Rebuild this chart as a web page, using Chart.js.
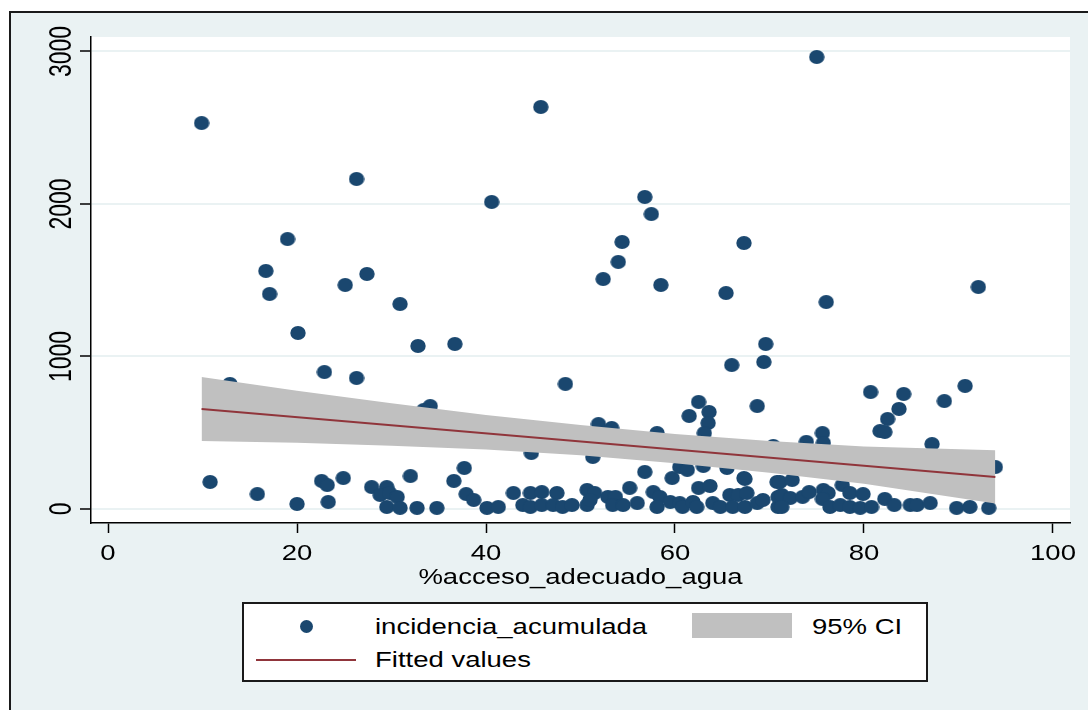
<!DOCTYPE html>
<html>
<head>
<meta charset="utf-8">
<script src="https://cdn.jsdelivr.net/npm/chart.js@4.4.1/dist/chart.umd.min.js"></script>
<style>
html,body{margin:0;padding:0;background:#fff;width:1088px;height:710px;overflow:hidden;}
#frame{position:absolute;left:9px;top:11px;width:1100px;height:720px;background:#EAF2F3;border-left:2px solid #1a1a1a;border-top:2px solid #1a1a1a;box-sizing:border-box;}
#chart{position:absolute;left:0;top:0;}
#legend{position:absolute;left:242px;top:602px;width:686px;height:80px;background:#fff;border:2px solid #1a1a1a;box-sizing:border-box;}
.lt{position:absolute;font-family:"Liberation Sans",Arial,sans-serif;font-size:22px;line-height:22px;white-space:nowrap;color:#000;transform:scaleX(1.25);transform-origin:0 0;}
.dot{position:absolute;left:56px;top:16px;width:13px;height:13px;border-radius:50%;background:#1A476F;}
.ci{position:absolute;left:448px;top:9px;width:100px;height:25px;background:#C0C0C0;}
.fl{position:absolute;left:12px;top:55px;width:100px;height:2px;background:#90353B;}
</style>
</head>
<body>
<div id="frame"></div>
<canvas id="chart" width="1088" height="710"></canvas>
<div id="legend">
  <div class="dot"></div>
  <div class="lt" style="left:131px;top:12px;">incidencia_acumulada</div>
  <div class="ci"></div>
  <div class="lt" style="left:568px;top:12px;">95% CI</div>
  <div class="fl"></div>
  <div class="lt" style="left:131px;top:45px;">Fitted values</div>
</div>
<script>
// ---- data ----
const accesoAgua = [
  9.9,45.8,75.0,26.3,40.6,56.8,57.5,19.0,16.7,17.1,25.1,27.4,54.4,54.0,52.4,58.5,67.3,65.4,76.0,92.1,
  20.1,30.9,32.8,36.7,69.6,69.4,66.0,22.9,26.3,12.9,48.4,80.7,68.7,62.5,84.2,88.5,90.7,34.1,33.4,63.6,
  63.5,63.1,61.5,83.7,82.5,81.7,82.2,87.2,93.9,75.6,73.9,75.7,58.1,51.9,53.3,44.8,51.3,56.8,59.7,60.5,
  61.3,63.0,65.5,67.3,70.8,70.4,
  10.8,15.8,20.0,22.6,23.2,24.9,23.3,27.9,29.5,28.8,29.8,30.6,29.5,30.9,32.0,32.7,34.8,36.6,37.7,37.9,
  38.7,40.1,41.3,42.9,44.7,45.9,47.5,43.9,44.7,45.9,47.1,48.1,49.1,50.7,51.5,50.7,51.0,52.9,53.7,53.4,
  54.5,55.2,56.0,57.7,58.4,58.1,59.5,60.5,60.8,61.9,62.5,63.7,62.3,64.0,64.8,65.8,66.7,67.6,66.1,67.4,
  68.7,69.3,70.9,70.9,71.1,72.4,71.3,72.2,71.3,73.5,74.2,75.7,76.2,75.6,76.4,77.5,77.7,78.5,79.9,78.5,
  79.6,80.8,82.2,83.2,84.9,85.6,87.0,89.8,91.2,93.2,67.4
];
const incidenciaAcumulada = [
  2531,2636,2964,2164,2013,2046,1934,1770,1561,1410,1469,1541,1751,1620,1508,1469,1744,1416,1357,1456,
  1154,1344,1069,1082,1082,964,944,898,859,820,820,767,675,702,754,708,807,675,649,636,
  564,498,610,656,590,511,505,426,275,498,440,433,498,557,531,367,341,243,203,275,
  256,282,269,203,177,413,
  177,98,33,184,157,203,46,144,144,92,105,79,13,7,216,7,7,184,269,98,
  59,7,13,105,105,111,105,26,13,26,26,13,26,125,105,26,59,79,79,26,
  26,138,39,111,79,13,46,39,13,46,138,151,13,39,13,92,92,105,13,13,
  39,59,13,79,177,190,92,72,13,79,111,125,105,66,13,26,157,105,98,13,
  7,13,66,26,26,26,39,7,13,7,197
];
const fitX = [9.9, 93.9];
const fitY = [656, 209];
const ciX = [9.9, 20, 30, 40, 50, 60, 70, 80, 93.9];
const ciUpper = [866, 776, 693, 617, 550, 492, 445, 410, 385];
const ciLower = [446, 434, 415, 390, 352, 300, 238, 165, 36];
const xTickValues = [0, 20, 40, 60, 80, 100];
const yTickValues = [0, 1000, 2000, 3000];
const xTitle = '%acceso_adecuado_agua';

// ---- build ----
const pts = accesoAgua.map((x, i) => ({x: x, y: incidenciaAcumulada[i]}));
const upperPts = ciX.map((x, i) => ({x: x, y: ciUpper[i]}));
const lowerPts = ciX.map((x, i) => ({x: x, y: ciLower[i]}));
const fitPts = fitX.map((x, i) => ({x: x, y: fitY[i]}));

const dot = document.createElement('canvas');
dot.width = 16; dot.height = 14;
(function(){ const d = dot.getContext('2d'); d.fillStyle = '#1A476F'; d.beginPath(); d.ellipse(8, 7, 7.7, 6.9, 0, 0, Math.PI * 2); d.fill(); })();

const FONT = '"Liberation Sans", Arial, sans-serif';

const bgPlugin = {
  id: 'plotBg',
  beforeDraw(chart) {
    const a = chart.chartArea, c = chart.ctx;
    c.save(); c.fillStyle = '#fff'; c.fillRect(a.left, a.top, a.right - a.left, a.bottom - a.top); c.restore();
  }
};

const textPlugin = {
  id: 'stataText',
  afterDraw(chart) {
    const c = chart.ctx, xs = chart.scales.x, ys = chart.scales.y, a = chart.chartArea;
    c.save();
    c.fillStyle = '#000';
    c.textAlign = 'center';
    c.textBaseline = 'alphabetic';
    c.font = '22px ' + FONT;
    xTickValues.forEach(v => {
      c.save(); c.translate(xs.getPixelForValue(v), a.bottom + 37); c.scale(1.25, 1); c.fillText(String(v), 0, 0); c.restore();
    });
    c.save(); c.translate((a.left + a.right) / 2, a.bottom + 61); c.scale(1.25, 1); c.fillText(xTitle, 0, 0); c.restore();
    c.font = '23px ' + FONT;
    yTickValues.forEach(v => {
      c.save(); c.translate(a.left - 20.5, ys.getPixelForValue(v)); c.rotate(-Math.PI / 2); c.scale(1, 1.35); c.fillText(String(v), 0, 0); c.restore();
    });
    c.restore();
  }
};

new Chart(document.getElementById('chart'), {
  type: 'scatter',
  data: {
    datasets: [
      {label: 'incidencia_acumulada', data: pts, pointStyle: dot, pointRadius: 7.5, backgroundColor: '#1A476F', borderWidth: 0, order: 3},
      {type: 'line', label: '95% CI', data: upperPts, pointRadius: 0, borderWidth: 0, borderColor: 'rgba(0,0,0,0)', backgroundColor: '#C0C0C0', fill: '+1', tension: 0, order: 2},
      {type: 'line', label: 'ci_lower', data: lowerPts, pointRadius: 0, borderWidth: 0, borderColor: 'rgba(0,0,0,0)', fill: false, tension: 0, order: 2},
      {type: 'line', label: 'Fitted values', data: fitPts, pointRadius: 0, borderColor: '#90353B', borderWidth: 2, fill: false, tension: 0, order: 1}
    ]
  },
  options: {
    responsive: false,
    animation: false,
    devicePixelRatio: 1,
    layout: {padding: {left: 0, top: 37, right: 18, bottom: 121}},
    plugins: {legend: {display: false}, tooltip: {enabled: false}},
    scales: {
      x: {
        type: 'linear', min: -1.8, max: 101.8,
        afterBuildTicks: s => { s.ticks = xTickValues.map(v => ({value: v})); },
        ticks: {display: false},
        grid: {drawOnChartArea: false, drawTicks: true, tickLength: 10, tickColor: '#000', tickWidth: 1.5},
        border: {color: '#000', width: 1.5},
        afterFit: s => { s.height = 66; }
      },
      y: {
        type: 'linear', min: -92, max: 3095,
        afterBuildTicks: s => { s.ticks = yTickValues.map(v => ({value: v})); },
        ticks: {display: false},
        grid: {color: '#EAF2F3', lineWidth: 2, drawTicks: true, tickLength: 11, tickColor: '#000', tickWidth: 1.5},
        border: {color: '#000', width: 1.5},
        afterFit: s => { s.width = 91; }
      }
    }
  },
  plugins: [bgPlugin, textPlugin]
});
</script>
</body>
</html>
